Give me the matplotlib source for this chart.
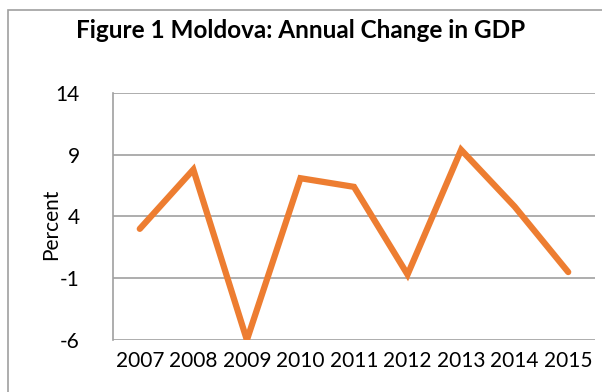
import matplotlib
matplotlib.use('Agg')
import matplotlib.pyplot as plt
from matplotlib.patches import Rectangle

years = ['2007', '2008', '2009', '2010', '2011', '2012', '2013', '2014', '2015']
gdp_change = [3.0, 7.8, -6.0, 7.1, 6.4, -0.7, 9.4, 4.8, -0.5]
yticks = [-6, -1, 4, 9, 14]

plt.rcParams['font.family'] = ['Lato', 'DejaVu Sans']

fig = plt.figure(figsize=(6.02, 3.92), dpi=100)
ax = fig.add_axes([113/602, 1 - 340/392, 482/602, 247/392])

x = list(range(len(years)))
ax.plot(x, gdp_change, color='#ED7D31', linewidth=4.5, solid_capstyle='round',
        solid_joinstyle='miter', zorder=3)

ax.set_xlim(-0.5, len(years) - 0.5)
ax.set_ylim(-6, 14)
ax.set_yticks(yticks)
ax.set_yticklabels([str(v) for v in yticks], fontsize=15)
ax.set_xticks(x)
ax.set_xticklabels(years, fontsize=15)
ax.tick_params(length=0, pad=8)
ax.tick_params(axis='y', pad=24)
ax.grid(axis='y', color='#A0A0A0', linewidth=1.2)
for s in ['top', 'right', 'bottom']:
    ax.spines[s].set_visible(False)
ax.spines['left'].set_color('#A0A0A0')
ax.spines['left'].set_linewidth(1.2)
ax.set_ylabel('Percent', fontsize=15)
ax.yaxis.set_label_coords(-52/482, (340-224)/247)

fig.text(0.5, 1 - 31/392, 'Figure 1 Moldova: Annual Change in GDP', ha='center', va='center',
         fontsize=17.5, fontweight='bold')

fig.add_artist(Rectangle((8/602, -0.5), 1.2, 1.5 - 10/392, transform=fig.transFigure,
                         fill=False, edgecolor='#A0A0A0', linewidth=1.2))

fig.savefig('out.png', dpi=100)
